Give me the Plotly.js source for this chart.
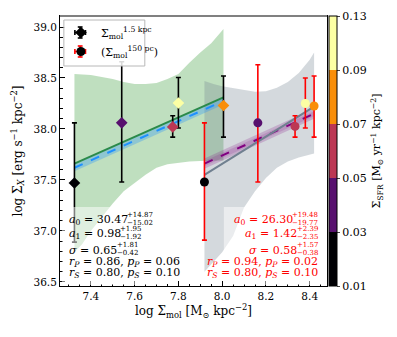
<!DOCTYPE html>
<html>
<head>
<meta charset="utf-8">
<script src="https://cdn.plot.ly/plotly-3.0.1.min.js"></script>
<style>
  body { margin: 0; background: #fff; }
  #chart { width: 397px; height: 337px; }
</style>
</head>
<body>
<div id="chart"></div>
<script>
// points at 1.5 kpc (diamonds, black error bars)
const kpcX = [7.325, 7.541, 7.774, 7.8, 8.006];
const kpcY = [37.47, 38.06, 38.02, 38.255, 38.23];
const kpcErrUp = [0.59, 0.6, 0.11, 0.25, 0.29];
const kpcErrDown = [0.58, 0.58, 0.1, 0.245, 0.31];
const kpcSfr = [0.02, 0.04, 0.06, 0.11, 0.08];

// points at 150 pc (circles, red error bars)
const pcX = [7.919, 8.163, 8.333, 8.38, 8.42];
const pcY = [37.48, 38.06, 38.025, 38.25, 38.225];
const pcErrUp = [0.58, 0.57, 0.105, 0.25, 0.295];
const pcErrDown = [0.57, 0.58, 0.105, 0.24, 0.305];
const pcSfr = [0.02, 0.04, 0.06, 0.11, 0.08];

// colour bins of the SFR colourbar
const sfrBins = [0.01, 0.03, 0.05, 0.07, 0.09, 0.13];
const binColors = ["#000004", "#57106e", "#bc3754", "#f98e09", "#fcffa4"];

// fits for 1.5 kpc (green / blue)
const kpcFitX = [7.325, 8.006];
const kpcFitY = [37.66, 38.31];
const kpcMedY = [37.62, 38.275];
const kpcMedUp = [37.655, 38.31];
const kpcMedLo = [37.585, 38.24];
const kpcBandX = [7.325, 7.36, 7.4, 7.45, 7.5, 7.55, 7.6, 7.65, 7.7, 7.75, 7.8, 7.85, 7.9, 7.95, 8.006];
const kpcBandUp = [38.54, 38.535, 38.53, 38.51, 38.49, 38.46, 38.44, 38.44, 38.45, 38.49, 38.54, 38.65, 38.75, 38.84, 38.98];
const kpcBandLo = [36.79, 36.87, 37.0, 37.13, 37.27, 37.39, 37.47, 37.55, 37.62, 37.655, 37.67, 37.68, 37.685, 37.69, 37.69];

// fits for 150 pc (grey / purple)
const pcFitX = [7.919, 8.42];
const pcFitY = [37.55, 38.22];
const pcMedY = [37.66, 38.15];
const pcMedUp = [37.71, 38.2];
const pcMedLo = [37.61, 38.1];
const pcBandX = [7.919, 7.96, 8.0, 8.05, 8.1, 8.15, 8.2, 8.25, 8.3, 8.35, 8.4, 8.42];
const pcBandUp = [38.47, 38.44, 38.42, 38.4, 38.38, 38.365, 38.37, 38.405, 38.46, 38.55, 38.68, 38.75];
const pcBandLo = [36.6, 36.7, 36.79, 36.95, 37.23, 37.39, 37.52, 37.62, 37.68, 37.72, 37.75, 37.76];

// fit statistics text
const kpcPar = ["30.47", "0.98", "0.65"];
const kpcParUp = ["+14.87", "+1.95", "+1.81"];
const kpcParLo = ["−15.02", "−1.92", "−0.42"];
const kpcCorr = ["0.86", "0.06", "0.80", "0.10"];
const pcPar = ["26.30", "1.42", "0.58"];
const pcParUp = ["+19.48", "+2.39", "+1.57"];
const pcParLo = ["−19.77", "−2.35", "−0.38"];
const pcCorr = ["0.94", "0.02", "0.80", "0.10"];

const legendNames = ["Σ<sub>mol</sub><sup>1.5 kpc</sup>", "(Σ<sub>mol</sub><sup>150 pc</sup>)"];
const legendBarColors = ["black", "red"];

const FONT = "DejaVu Serif";

function binIndex(v) {
  for (let i = 0; i < sfrBins.length - 1; i++) {
    if (v >= sfrBins[i] && v < sfrBins[i + 1]) return i + 0.5;
  }
  return sfrBins.length - 1.5;
}

const colorscale = [];
binColors.forEach((c, i) => {
  colorscale.push([i / binColors.length, c]);
  colorscale.push([(i + 1) / binColors.length, c]);
});

function band(xs, up, lo, fill) {
  return {
    x: xs.concat(xs.slice().reverse()),
    y: up.concat(lo.slice().reverse()),
    mode: "lines",
    fill: "toself",
    fillcolor: fill,
    line: { width: 0 },
    hoverinfo: "skip",
    showlegend: false,
  };
}

function line(xs, ys, color, dash) {
  return {
    x: xs,
    y: ys,
    mode: "lines",
    line: { color: color, width: 2, dash: dash || "solid" },
    showlegend: false,
  };
}

const traces = [
  band(kpcBandX, kpcBandUp, kpcBandLo, "rgba(0,128,0,0.25)"),
  band(pcBandX, pcBandUp, pcBandLo, "rgba(112,128,144,0.3)"),
  band(kpcFitX, kpcMedUp, kpcMedLo, "rgba(30,144,255,0.3)"),
  line(kpcFitX, kpcFitY, "#2a8a4a"),
  line(kpcFitX, kpcMedY, "#1e90ff", "dash"),
  band(pcFitX, pcMedUp, pcMedLo, "rgba(128,0,128,0.2)"),
  band(pcFitX, [pcMedUp[0] - 0.025, pcMedUp[1] - 0.025], [pcMedLo[0] + 0.025, pcMedLo[1] + 0.025], "rgba(128,0,128,0.15)"),
  line(pcFitX, pcMedY, "#800080", "dash"),
  line(pcFitX, pcFitY, "#708090"),
  {
    x: kpcX,
    y: kpcY,
    mode: "markers",
    showlegend: false,
    error_y: { type: "data", array: kpcErrUp, arrayminus: kpcErrDown, color: "black", thickness: 1.6, width: 2.5 },
    marker: {
      symbol: "diamond",
      size: 9,
      color: kpcSfr.map(binIndex),
      colorscale: colorscale,
      cmin: 0,
      cmax: 5,
      showscale: true,
      colorbar: {
        x: 1.007,
        xanchor: "left",
        xpad: 0,
        ypad: 0,
        y: 0.5,
        len: 1,
        thickness: 8,
        outlinewidth: 1,
        outlinecolor: "black",
        tickvals: [0, 1, 2, 3, 4, 5],
        ticktext: sfrBins.map((v) => v.toFixed(2)),
        ticks: "outside",
        ticklen: 3,
        tickfont: { family: FONT, size: 11, color: "black" },
        title: {
          text: "Σ<sub>SFR</sub> [M<sub>⊙</sub> yr<sup>−1</sup> kpc<sup>−2</sup>]",
          side: "right",
          font: { family: FONT, size: 11, color: "black" },
        },
      },
    },
  },
  {
    x: pcX,
    y: pcY,
    mode: "markers",
    showlegend: false,
    error_y: { type: "data", array: pcErrUp, arrayminus: pcErrDown, color: "red", thickness: 1.6, width: 2.5 },
    marker: {
      symbol: "circle",
      size: 9,
      color: pcSfr.map(binIndex),
      colorscale: colorscale,
      cmin: 0,
      cmax: 5,
    },
  },
  {
    x: [null],
    y: [null],
    mode: "markers",
    name: legendNames[0],
    marker: { symbol: "diamond", size: 9, color: "black" },
  },
  {
    x: [null],
    y: [null],
    mode: "markers",
    name: legendNames[1],
    marker: { symbol: "circle", size: 9, color: "black" },
  },
];

// pixel helpers for placement inside the plot area
const L = 60, T = 16, W = 277, H = 270;
const px = (x) => (x - L) / W;
const py = (y) => 1 - (y - T) / H;

const rows = [219.5, 234, 250, 262, 273];
const parLabels = ["<i>a</i><sub>0</sub>", "<i>a</i><sub>1</sub>", "<i>σ</i>"];
const annotations = [];
const groups = [];

function addText(x, y, text, anchor, size, color) {
  annotations.push({
    xref: "paper",
    yref: "paper",
    x: px(x),
    y: py(y),
    text: text,
    xanchor: anchor,
    yanchor: "middle",
    showarrow: false,
    borderpad: 0,
    font: { family: FONT, size: size, color: color },
  });
  return annotations.length - 1;
}

function corrLines(c) {
  return [
    `<i>r<sub>P</sub></i> = ${c[0]}, <i>p<sub>P</sub></i> = ${c[1]}`,
    `<i>r<sub>S</sub></i> = ${c[2]}, <i>p<sub>S</sub></i> = ${c[3]}`,
  ];
}

// left block (black): scripts follow the main text
kpcPar.forEach((v, i) => {
  groups.push({
    side: "left",
    main: addText(68, rows[i], `${parLabels[i]} = ${v}`, "left", 11, "black"),
    up: addText(130, rows[i] - 5, kpcParUp[i], "left", 7, "black"),
    lo: addText(130, rows[i] + 3, kpcParLo[i], "left", 7, "black"),
  });
});
corrLines(kpcCorr).forEach((t, i) => addText(68, rows[3 + i], t, "left", 11, "black"));

// right block (red): scripts flush right, main text before them
pcPar.forEach((v, i) => {
  groups.push({
    side: "right",
    main: addText(305, rows[i], `${parLabels[i]} = ${v}`, "right", 11, "red"),
    up: addText(329, rows[i] - 5, pcParUp[i], "right", 7, "red"),
    lo: addText(329, rows[i] + 3, pcParLo[i], "right", 7, "red"),
  });
});
corrLines(pcCorr).forEach((t, i) => addText(329, rows[3 + i], t, "right", 11, "red"));

// legend frame; the legend itself is drawn transparent on top of it
const baseShapes = [
  { type: "rect", xref: "paper", yref: "paper", x0: px(62), x1: px(165), y0: py(285), y1: py(207), fillcolor: "rgba(255,255,255,0.5)", line: { width: 0 }, layer: "above" },
  { type: "rect", xref: "paper", yref: "paper", x0: px(230), x1: px(332), y0: py(285), y1: py(207), fillcolor: "rgba(255,255,255,0.5)", line: { width: 0 }, layer: "above" },
  { type: "rect", xref: "paper", yref: "paper", x0: px(64), x1: px(148), y0: py(66), y1: py(20), fillcolor: "rgba(255,255,255,0.85)", line: { color: "#b8b8b8", width: 1 }, layer: "above" },
  { type: "line", xref: "paper", yref: "paper", x0: 0, x1: 1, y0: 1, y1: 1, line: { color: "#808080", width: 2 } },
];

// error-bar crosses behind the legend symbols
function crossShapes(cx, cy, color) {
  const out = [];
  const seg = (x0, y0, x1, y1) => out.push({ type: "line", xref: "paper", yref: "paper", x0: px(x0), x1: px(x1), y0: py(y0), y1: py(y1), line: { color: color, width: 1.6 }, layer: "above" });
  const r = 5.5, c = 2.5;
  seg(cx - r, cy, cx + r, cy);
  seg(cx, cy - r, cx, cy + r);
  seg(cx - c, cy - r, cx + c, cy - r);
  seg(cx - c, cy + r, cx + c, cy + r);
  seg(cx - r, cy - c, cx - r, cy + c);
  seg(cx + r, cy - c, cx + r, cy + c);
  return out;
}

const axisCommon = {
  showline: true,
  mirror: true,
  linecolor: "black",
  linewidth: 1,
  ticks: "inside",
  ticklen: 5,
  tickcolor: "black",
  showgrid: false,
  zeroline: false,
  tickformat: ".1f",
  tickfont: { family: FONT, size: 10.5, color: "black" },
};

const layout = {
  width: 397,
  height: 337,
  margin: { l: 60, r: 60, t: 16, b: 51 },
  paper_bgcolor: "white",
  plot_bgcolor: "white",
  font: { family: FONT, color: "black" },
  showlegend: true,
  legend: {
    x: px(59),
    y: py(18),
    xanchor: "left",
    yanchor: "top",
    bgcolor: "rgba(0,0,0,0)",
    borderwidth: 0,
    font: { family: FONT, size: 11, color: "black" },
  },
  xaxis: Object.assign({}, axisCommon, {
    range: [7.259, 8.479],
    dtick: 0.2,
    tick0: 7.4,
    minor: { dtick: 0.05, ticks: "inside", ticklen: 2.5, tickcolor: "black" },
    title: {
      text: "log Σ<sub>mol</sub> [M<sub>⊙</sub> kpc<sup>−2</sup>]",
      font: { family: FONT, size: 12, color: "black" },
      standoff: 6,
    },
  }),
  yaxis: Object.assign({}, axisCommon, {
    range: [36.46, 39.108],
    dtick: 0.5,
    tick0: 36.5,
    minor: { dtick: 0.1, ticks: "inside", ticklen: 2.5, tickcolor: "black" },
    title: {
      text: "log Σ<sub><i>X</i></sub> [erg s<sup>−1</sup> kpc<sup>−2</sup>]",
      font: { family: FONT, size: 12, color: "black" },
      standoff: 8,
    },
  }),
  shapes: baseShapes,
  annotations: annotations,
};

function rectOf(gd, el) {
  const r = el.getBoundingClientRect();
  const box = gd.getBoundingClientRect();
  return { left: r.left - box.left, right: r.right - box.left, top: r.top - box.top, bottom: r.bottom - box.top, width: r.width, height: r.height };
}
function annRect(gd, idx) {
  return rectOf(gd, gd.querySelector(`.annotation[data-index="${idx}"] .annotation-text`));
}
function legendPoints(gd) {
  return Array.from(gd.querySelectorAll(".legend .traces .legendpoints path")).map((el) => {
    const r = rectOf(gd, el);
    return { x: (r.left + r.right) / 2, y: (r.top + r.bottom) / 2 };
  });
}

Plotly.newPlot("chart", traces, layout, { displayModeBar: false, staticPlot: true })
  .then((gd) => {
    // stack super/subscripts next to the rendered main text, line the legend symbols up
    const upd = {};
    groups.forEach((g) => {
      if (g.side === "left") {
        const x = px(annRect(gd, g.main).right + 0.5);
        upd[`annotations[${g.up}].x`] = x;
        upd[`annotations[${g.lo}].x`] = x;
      } else {
        const w = Math.max(annRect(gd, g.up).width, annRect(gd, g.lo).width);
        upd[`annotations[${g.main}].x`] = px(329 - w - 0.5);
      }
    });
    const pts = legendPoints(gd);
    if (pts.length) upd["legend.x"] = px(59 + 81 - pts[0].x);
    return Plotly.relayout(gd, upd).then(() => gd);
  })
  .then((gd) => {
    const pts = legendPoints(gd);
    let shapes = baseShapes.slice();
    pts.forEach((p, i) => {
      shapes = shapes.concat(crossShapes(p.x, p.y, legendBarColors[i] || "black"));
    });
    return Plotly.relayout(gd, { shapes: shapes });
  });
</script>
</body>
</html>
